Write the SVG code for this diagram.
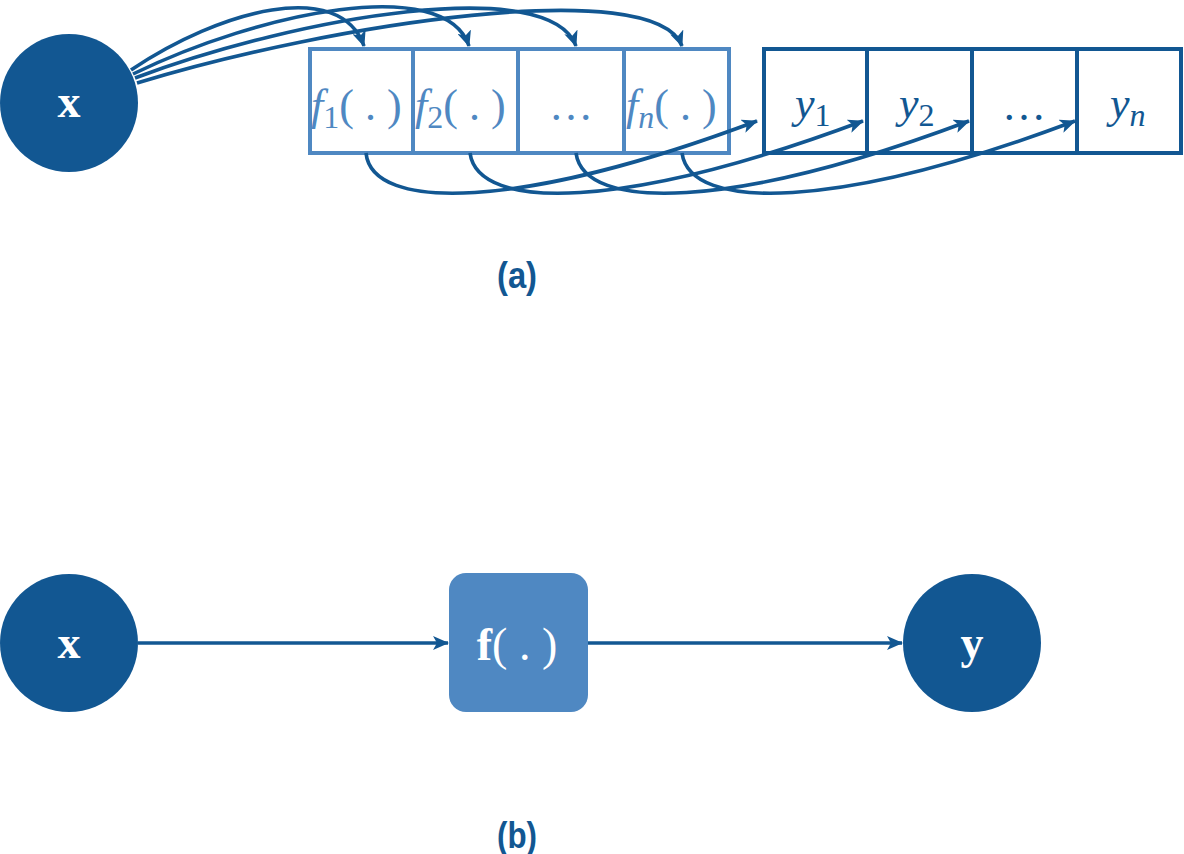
<svg xmlns="http://www.w3.org/2000/svg" width="1184" height="854" viewBox="0 0 1184 854">
<style>
.dk{fill:#125792}
.fbox{fill:#fff;stroke:#4f88c2;stroke-width:4}
.ybox{fill:#fff;stroke:#125792;stroke-width:4}
.con{fill:none;stroke:#125792;stroke-width:3.6}
.ft{font-family:"Liberation Serif",serif;font-size:44px;fill:#4f88c2}
.yt{font-family:"Liberation Serif",serif;font-size:44px;fill:#125792}
.nt{font-family:"Liberation Serif",serif;font-size:46px;font-weight:bold;fill:#fff}
.cap{font-family:"Liberation Sans",sans-serif;font-size:37px;fill:#125792;font-weight:bold}
</style>
<defs>
<marker id="ah" viewBox="0 0 16 14" refX="15" refY="7" markerWidth="16" markerHeight="14" markerUnits="userSpaceOnUse" orient="auto">
<path d="M0,0 L16,7 L0,14 L4,7 Z" fill="#125792"/>
</marker>
<marker id="ah2" viewBox="0 0 16 14" refX="15" refY="7" markerWidth="16" markerHeight="14" markerUnits="userSpaceOnUse" orient="auto">
<path d="M0,0 L16,7 L0,14 L4,7 Z" fill="#125792"/>
</marker>
</defs>
<rect width="1184" height="854" fill="#fff"/>

<g id="top-x"><circle cx="69" cy="103" r="69" class="dk"/><text x="69" y="117" text-anchor="middle" class="nt">x</text></g>

<g id="f1"><rect x="310" y="49" width="103" height="104" class="fbox"/><text x="311" y="120" class="ft"><tspan font-style="italic">f</tspan><tspan font-size="32" dy="8">1</tspan><tspan dy="-8">( . )</tspan></text></g>
<g id="f2"><rect x="413" y="49" width="105" height="104" class="fbox"/><text x="415" y="120" class="ft"><tspan font-style="italic">f</tspan><tspan font-size="32" dy="8">2</tspan><tspan dy="-8">( . )</tspan></text></g>
<g id="fdots"><rect x="518" y="49" width="106" height="104" class="fbox"/><text x="571" y="120" text-anchor="middle" class="ft">…</text></g>
<g id="fn"><rect x="624" y="49" width="105" height="104" class="fbox"/><text x="626" y="120" class="ft"><tspan font-style="italic">f</tspan><tspan font-size="32" font-style="italic" dy="8">n</tspan><tspan dy="-8">( . )</tspan></text></g>

<g id="y1"><rect x="764" y="49" width="103" height="104" class="ybox"/><text x="795" y="118" class="yt"><tspan font-style="italic">y</tspan><tspan font-size="32" dy="8">1</tspan></text></g>
<g id="y2"><rect x="867" y="49" width="105" height="104" class="ybox"/><text x="899" y="118" class="yt"><tspan font-style="italic">y</tspan><tspan font-size="32" dy="8">2</tspan></text></g>
<g id="ydots"><rect x="972" y="49" width="105" height="104" class="ybox"/><text x="1024" y="120" text-anchor="middle" class="yt">…</text></g>
<g id="yn"><rect x="1077" y="49" width="104" height="104" class="ybox"/><text x="1110" y="118" class="yt"><tspan font-style="italic">y</tspan><tspan font-size="32" font-style="italic" dy="8">n</tspan></text></g>

<g id="connectors">
<path class="con" marker-end="url(#ah)" d="M131,70 C220,10 340,-22 364,46"/>
<path class="con" marker-end="url(#ah)" d="M133,74 C260,12 445,-26 469,46"/>
<path class="con" marker-end="url(#ah)" d="M135,78 C300,16 550,-26 576,46"/>
<path class="con" marker-end="url(#ah)" d="M137,83 C330,24 655,-26 682,46"/>

<path class="con" marker-end="url(#ah)" d="M366,153 C372,212 520,210 757,121"/>
<path class="con" marker-end="url(#ah)" d="M470,153 C478,212 625,210 863,121"/>
<path class="con" marker-end="url(#ah)" d="M576,153 C584,212 732,210 969,121"/>
<path class="con" marker-end="url(#ah)" d="M682,153 C690,212 838,210 1075,121"/>

<path class="con" marker-end="url(#ah2)" d="M138,643 L448,643"/>
<path class="con" marker-end="url(#ah2)" d="M588,643 L902,643"/>
</g>

<text x="497" y="288" textLength="40" lengthAdjust="spacingAndGlyphs" class="cap">(a)</text>

<g id="bot-x"><circle cx="69" cy="643" r="69" class="dk"/><text x="69" y="658" text-anchor="middle" class="nt">x</text></g>
<g id="f"><rect x="449" y="573" width="139" height="139" rx="17" fill="#4f88c2"/><text x="517" y="660" text-anchor="middle" class="nt" font-size="56"><tspan>f</tspan><tspan font-weight="normal">( . )</tspan></text></g>
<g id="bot-y"><circle cx="972" cy="643" r="69" class="dk"/><text x="972" y="658" text-anchor="middle" class="nt">y</text></g>

<text x="497" y="848" textLength="40" lengthAdjust="spacingAndGlyphs" class="cap">(b)</text>
</svg>
